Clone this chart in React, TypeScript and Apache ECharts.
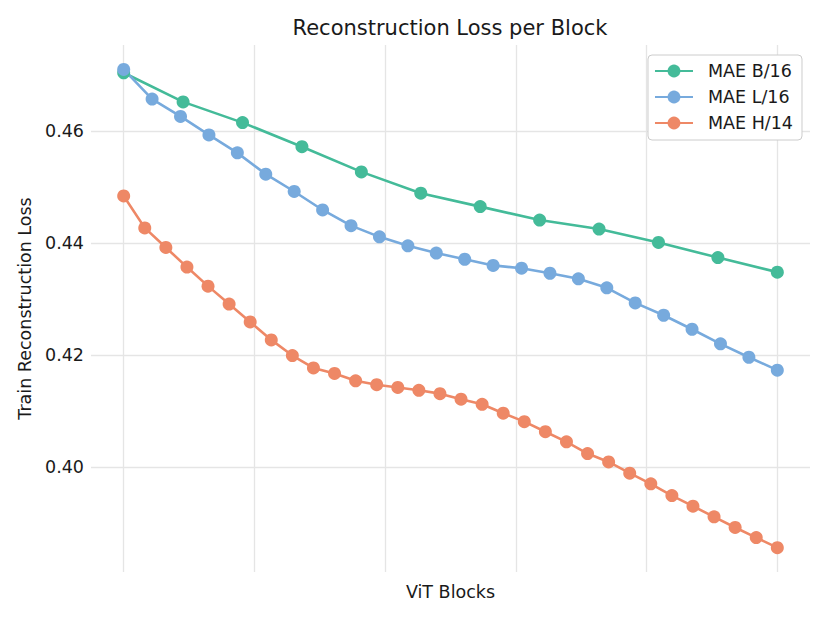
import React, { useEffect, useRef } from "react";
import * as echarts from "echarts";

const seriesNames = ["MAE B/16", "MAE L/16", "MAE H/14"];
const seriesColors = ["#44BB99", "#77AADD", "#EE8866"];

const maeB16 = [0.4704, 0.4652, 0.4615, 0.4572, 0.4527, 0.4489, 0.4465, 0.4441, 0.4425, 0.4401, 0.4374, 0.4348];
const maeL16 = [
  0.471, 0.4657, 0.4626, 0.4593, 0.4561, 0.4523, 0.4492, 0.4459, 0.4431, 0.4411, 0.4395, 0.4382,
  0.4371, 0.436, 0.4355, 0.4346, 0.4336, 0.432, 0.4293, 0.4271, 0.4246, 0.422, 0.4196, 0.4173,
];
const maeH14 = [
  0.4484, 0.4427, 0.4392, 0.4357, 0.4323, 0.4291, 0.4259, 0.4227, 0.4199, 0.4177, 0.4167, 0.4154,
  0.4147, 0.4142, 0.4137, 0.4131, 0.4121, 0.4112, 0.4096, 0.4081, 0.4063, 0.4045, 0.4024, 0.4009,
  0.3989, 0.397, 0.3949, 0.393, 0.3911, 0.3892, 0.3874, 0.3856,
];
const yTicks = [0.4, 0.42, 0.44, 0.46];
const xGridValues = [0, 0.2, 0.4, 0.6, 0.8, 1.0];

const FONT = "DejaVu Sans";
const TEXT = "#1a1a1a";

// block position normalised to relative depth (first block = 0, last = 1)
const toPairs = (vals: number[]) => vals.map((v, i) => [i / (vals.length - 1), v]);

export default function App() {
  const ref = useRef<HTMLDivElement>(null);
  useEffect(() => {
    if (!ref.current) return;
    const chart = echarts.init(ref.current, undefined, { renderer: "svg" });
    const all = [maeB16, maeL16, maeH14];
    chart.setOption({
      animation: false,
      backgroundColor: "#ffffff",
      title: {
        text: "Reconstruction Loss per Block",
        left: 450,
        top: 17,
        padding: 0,
        textAlign: "center",
        textStyle: { fontFamily: FONT, fontSize: 21, fontWeight: "normal", color: TEXT },
      },
      legend: {
        orient: "vertical",
        right: 28,
        top: 55,
        padding: [7, 9, 8, 6],
        itemGap: 8,
        itemWidth: 38,
        itemHeight: 16,
        borderColor: "#cccccc",
        borderWidth: 1,
        borderRadius: 4,
        backgroundColor: "#ffffff",
        data: seriesNames,
        textStyle: { fontFamily: FONT, fontSize: 17.5, color: TEXT, padding: [0, 0, 0, 10] },
      },
      grid: { left: 91, right: 20, top: 45, bottom: 51 },
      xAxis: {
        type: "value",
        min: -0.05,
        max: 1.05,
        name: "ViT Blocks",
        nameLocation: "middle",
        nameGap: 11,
        nameTextStyle: { fontFamily: FONT, fontSize: 17.5, color: TEXT, verticalAlign: "top" },
        axisLine: { show: false },
        axisTick: { show: false, customValues: xGridValues },
        axisLabel: { show: false, customValues: xGridValues },
        splitLine: { show: true, lineStyle: { color: "#e5e5e5", width: 1.3 } },
      },
      yAxis: {
        type: "value",
        min: 0.38125,
        max: 0.47536,
        name: "Train Reconstruction Loss",
        nameLocation: "middle",
        nameGap: 53,
        nameRotate: 90,
        nameTextStyle: { fontFamily: FONT, fontSize: 17.5, color: TEXT },
        axisLine: { show: false },
        axisTick: { show: false, customValues: yTicks },
        axisLabel: {
          customValues: yTicks,
          margin: 7,
          fontFamily: FONT,
          fontSize: 17.5,
          color: TEXT,
          formatter: (v: number) => v.toFixed(2),
        },
        splitLine: { show: true, lineStyle: { color: "#e5e5e5", width: 1.3 } },
      },
      series: all.map((vals, k) => ({
        name: seriesNames[k],
        type: "line",
        data: toPairs(vals),
        symbol: "circle",
        symbolSize: 13,
        showSymbol: true,
        color: seriesColors[k],
        lineStyle: { color: seriesColors[k], width: 2.6 },
        itemStyle: { color: seriesColors[k] },
        emphasis: { disabled: true },
      })),
    });
    return () => chart.dispose();
  }, []);
  return (
    <div
      ref={ref}
      style={{ position: "fixed", left: 0, top: 0, width: 830, height: 623, background: "#fff" }}
    />
  );
}
